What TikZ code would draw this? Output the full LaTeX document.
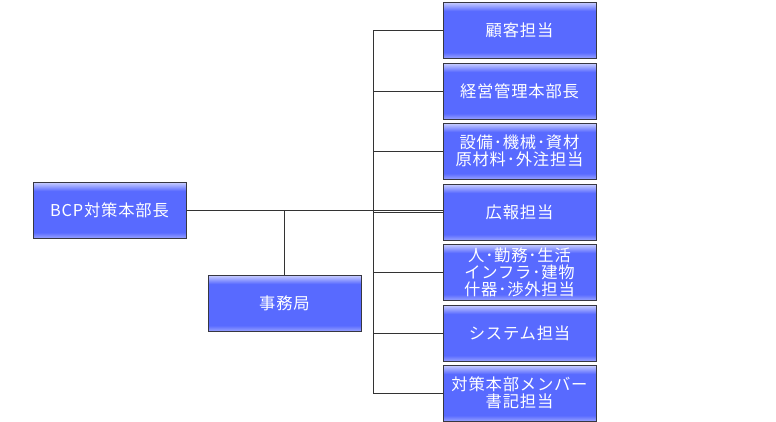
\documentclass[tikz,border=0pt]{standalone}
\usepackage{fontspec}
\newfontfamily\jpfont[LetterSpace=5]{Noto Sans CJK JP}
\definecolor{boxblue}{RGB}{88,106,255}
\definecolor{boxtop}{RGB}{205,210,255}
\definecolor{boxbottom}{RGB}{150,160,255}
\definecolor{boxline}{RGB}{55,55,65}
\pgfdeclareverticalshading{orgshade}{100bp}{color(0bp)=(boxbottom); color(25bp)=(boxbottom);
  color(30bp)=(boxblue); color(67bp)=(boxblue); color(75bp)=(boxtop); color(100bp)=(boxtop)}
\begin{document}
\begin{tikzpicture}[x=1pt,y=-1pt,
                org node/.style={rectangle,draw=boxline,line width=1pt,shading=orgshade,
                  minimum width=153pt,minimum height=56pt,inner sep=0pt,align=center,
                  text=white,font=\jpfont\fontsize{16.3}{17}\selectfont},
                link/.style={draw=black!80,line width=0.8pt},
                ]
                \useasboundingbox (0,0) rectangle (776,421);
                \def\X{519.5}
                \node[org node] (bcp) at (109.5,210) {BCP対策本部長};
                \node[org node] (jimu) at (284.5,303) {事務局};
                \node[org node] (1) at (\X,30) {顧客担当};
                \node[org node] (2) at (\X,91) {経営管理本部長};
                \node[org node] (3) at (\X,151) {設備･機械･資材\\原材料･外注担当};
                \node[org node] (4) at (\X,212) {広報担当};
                \node[org node] (5) at (\X,272) {人･勤務･生活\\インフラ･建物\\什器･渉外担当};
                \node[org node] (6) at (\X,333) {システム担当};
                \node[org node] (7) at (\X,393) {対策本部メンバー\\書記担当};
                \coordinate (trunk) at (373,0);

                \draw[link] (bcp.east) -- (bcp.east -| 4.west);
                \draw[link] (bcp.east -| jimu.north) -- (jimu.north);
                \draw[link] (1.west -| trunk) -- (7.west -| trunk);
                \foreach \i in {1,...,7}
                  \draw[link] (\i.west -| trunk) -- (\i.west);
            \end{tikzpicture}
\end{document}
